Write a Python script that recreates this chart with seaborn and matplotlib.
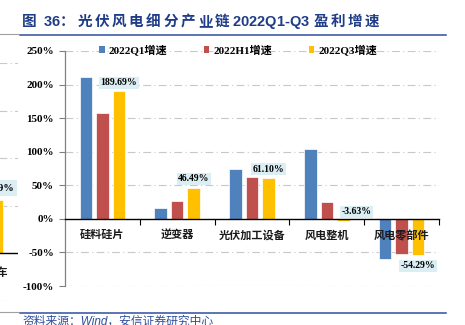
import matplotlib
matplotlib.use('Agg')
import matplotlib.pyplot as plt
import seaborn as sns
import pandas as pd
from matplotlib.patches import Patch
from matplotlib.lines import Line2D

# ---------------- data ----------------
categories = ['硅料硅片', '逆变器', '光伏加工设备', '风电整机', '风电零部件']
series = ['2022Q1增速', '2022H1增速', '2022Q3增速']
q1_values = [212, 16, 75, 104, -60]
h1_values = [158, 27, 63, 25, -53]
q3_values = [189.69, 46.49, 61.10, -3.63, -54.29]
y_ticks = [-100, -50, 0, 50, 100, 150, 200, 250]

# fragment of the neighbouring chart (cut off at the left edge)
nb_categories = ['新能源汽车']
nb_q3_values = [55.79]
nb_grid = [-50, 50, 100, 150, 200]

title_text = '图 36：光伏风电细分产业链2022Q1-Q3 盈利增速'
source_text = '资料来源：Wind，安信证券研究中心'

colors = ['#4F81BD', '#C0504D', '#FFC000']
label_bg = '#DAEEF3'
grid_color = '#C8C8C8'
blue_line = '#2F4E9E'
title_color = '#1F3C88'

plt.rcParams['font.family'] = ['Liberation Serif', 'Noto Sans CJK SC']
plt.rcParams['font.weight'] = 'bold'

W, H = 465, 325
fig = plt.figure(figsize=(W / 100, H / 100), dpi=100)


def fx(px):
    return px / W


def fy(py):
    return 1 - py / H


df = pd.DataFrame({
    'category': categories * 3,
    'series': [s for s in series for _ in categories],
    'value': q1_values + h1_values + q3_values,
})

# ---------------- main axes ----------------
ax = fig.add_axes([fx(65), fy(286), fx(439) - fx(65), fy(51) - fy(286)])
ax.patch.set_alpha(0)
sns.barplot(data=df, x='category', y='value', hue='series', order=categories,
            hue_order=series, palette=colors, saturation=1, width=0.66, gap=0.24,
            errorbar=None, legend=False, edgecolor='white', linewidth=0.5, ax=ax, zorder=2)

ax.set_xlim(-0.5, len(categories) - 0.5)
ax.set_ylim(-100, 250)
ax.set_xlabel('')
ax.set_ylabel('')

for t in y_ticks:
    if t != 0:
        ax.axhline(t, color=grid_color, lw=0.8, ls=(0, (7, 3, 1, 3)), zorder=0)

ax.set_yticks(y_ticks)
ax.set_yticklabels([f'{t}%' for t in y_ticks], fontsize=8, fontweight='bold')
ax.tick_params(axis='y', left=True, direction='out', length=4, width=0.8,
               color='#808080', pad=4, labelcolor='black')

ax.spines['top'].set_visible(False)
ax.spines['right'].set_visible(False)
ax.spines['left'].set_color('#808080')
ax.spines['left'].set_linewidth(0.9)
ax.spines['bottom'].set_position(('data', 0))
ax.spines['bottom'].set_color('black')
ax.spines['bottom'].set_linewidth(1.0)
ax.spines['bottom'].set_zorder(4)

ax.set_xticks([i + 0.5 for i in range(len(categories))])
ax.set_xticklabels([])
ax.set_xticks(range(len(categories)), minor=True)
ax.set_xticklabels(categories, minor=True, fontsize=8, fontweight='bold', color='#1a1a1a')
ax.tick_params(axis='x', which='major', bottom=True, direction='out', length=4,
               width=0.8, color='black', labelbottom=False)
ax.tick_params(axis='x', which='minor', bottom=True, length=0, pad=8)
ax.xaxis.set_zorder(5)

# data labels for Q3 series
for patch, v in zip(ax.containers[2], q3_values):
    cx = patch.get_x() + patch.get_width() / 2
    if v >= 0:
        xy, off = (cx, v), (0, 6.3)
    elif v > -20:
        xy, off = (cx, 0), (9.4, 5)
    else:
        xy, off = (cx, v), (0, -7.6)
    ax.annotate(f'{v:.2f}%', xy, xytext=off, textcoords='offset points',
                ha='center', va='center', fontsize=7, fontweight='bold',
                bbox=dict(boxstyle='square,pad=0.15', fc=label_bg, ec='none'), zorder=6)

# legend
handles = [Patch(facecolor=c, edgecolor='none') for c in colors]
fig.legend(handles, series, loc='center', bbox_to_anchor=(fx(238), fy(50)), ncol=3,
           frameon=False, prop={'weight': 'bold', 'size': 8}, handlelength=0.5,
           handleheight=0.5, handletextpad=0.35, columnspacing=3.3,
           borderaxespad=0, borderpad=0)

# ---------------- neighbouring chart fragment ----------------
q3_patch = ax.containers[2][0]
q3_offset = q3_patch.get_x() + q3_patch.get_width() / 2  # dodge offset of the Q3 bar
q3_width = q3_patch.get_width()

ax2 = fig.add_axes([fx(-19.5 - 37.4), fy(300.5), fx(74.8), fy(63) - fy(300.5)])
ax2.patch.set_alpha(0)
nb_x = [i + q3_offset for i in range(len(nb_categories))]
nb_bars = ax2.bar(nb_x, nb_q3_values, width=q3_width, color=colors[2],
                  edgecolor='white', linewidth=0.5, zorder=3)
ax2.set_xlim(-0.5, len(nb_categories) - 0.5)
ax2.set_ylim(-50, 200)
for t in nb_grid:
    ax2.axhline(t, color=grid_color, lw=0.8, ls=(0, (7, 3, 1, 3)), zorder=0)
ax2.axhline(0, color='black', lw=1.0, zorder=4)
ax2.axis('off')
for patch, v in zip(nb_bars, nb_q3_values):
    cx = patch.get_x() + patch.get_width() / 2
    ax2.annotate(f'{v:.2f}%', (cx, v), xytext=(0, 8.5), textcoords='offset points',
                 ha='center', va='center', fontsize=7.5, fontweight='bold',
                 bbox=dict(boxstyle='square,pad=0.35', fc=label_bg, ec='none'), zorder=6)
for i, c in enumerate(nb_categories):
    ax2.annotate(c, (i, 0), xytext=(0, -14), textcoords='offset points', ha='center',
                 va='center', fontsize=8, fontweight='bold', color='#1a1a1a')

# ---------------- title / frame lines / source ----------------
renderer = fig.canvas.get_renderer()
x = 22.0
for ch in title_text:
    t = fig.text(fx(x), fy(22), ch, fontsize=10.5, fontweight='bold', color=title_color,
                 family=['Liberation Sans', 'Noto Sans CJK SC'], ha='left', va='center')
    w = t.get_window_extent(renderer).width
    if ch == ' ':
        w = 4.5
    x += w + (2.6 if ord(ch) > 127 else 0)

for yy in (34.5, 312.5):
    fig.add_artist(Line2D([fx(20), fx(446)], [fy(yy), fy(yy)], color=blue_line, lw=1.1,
                          transform=fig.transFigure))
    fig.add_artist(Line2D([0, fx(18)], [fy(yy - 1), fy(yy - 1)], color='#A0A0A0', lw=0.8,
                          transform=fig.transFigure))

fig.text(fx(22), fy(322), source_text, fontsize=8.5, style='italic', fontweight='normal',
         color=blue_line, family=['Liberation Sans', 'Noto Sans CJK SC'], ha='left', va='center')

fig.savefig('out.png', dpi=100)
